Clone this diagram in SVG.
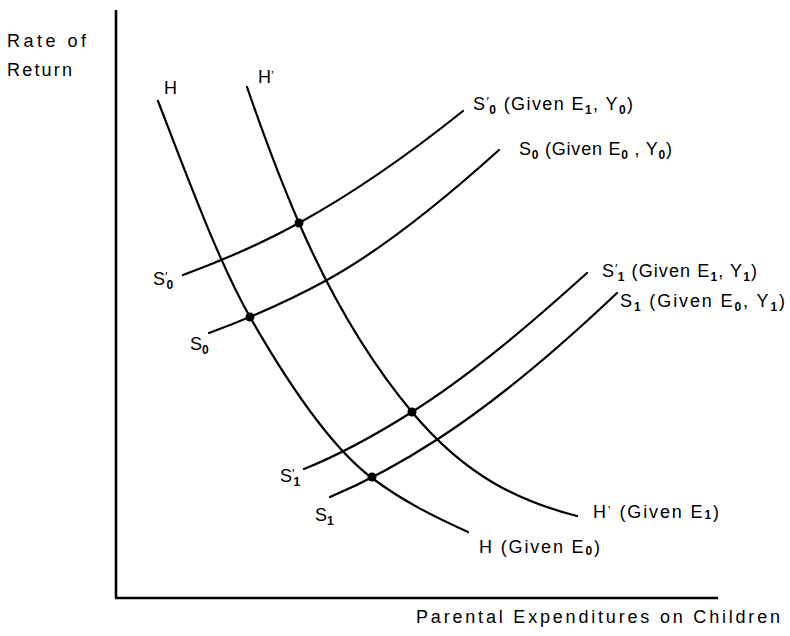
<svg xmlns="http://www.w3.org/2000/svg" width="790" height="636" viewBox="0 0 790 636">
<style>
.ax{fill:none;stroke:#000;stroke-width:2.6}
.cv{fill:none;stroke:#000;stroke-width:2.2;stroke-linecap:round}
.dot{fill:#000}
text{font-family:"Liberation Sans",Arial,Helvetica,sans-serif;font-size:18px;fill:#000}
.sub{font-size:12px;font-weight:bold}
.pr{font-size:13px}
</style>
<rect width="790" height="636" fill="#fff"/>
<g id="axes">
<line class="ax" x1="116" y1="10" x2="116" y2="598"/>
<line class="ax" x1="115" y1="598" x2="718" y2="598"/>
<text x="7" y="47" textLength="79" lengthAdjust="spacing">Rate  of</text>
<text x="7" y="76" textLength="65" lengthAdjust="spacing">Return</text>
<text x="416" y="623" textLength="364" lengthAdjust="spacing">Parental Expenditures on Children</text>
</g>
<g id="curves">
<g id="H">
<path class="cv" d="M158,101 C188.7,180.7 219.3,263.3 250,317 C290.7,388.2 331.3,447.5 372,478 C404,502 436,517.6 468,532"/>
<text x="164" y="94">H</text>
<text x="479" y="553" textLength="121" lengthAdjust="spacing">H (Given E<tspan class="sub" dy="2">0</tspan><tspan dy="-2">)</tspan></text>
</g>
<g id="Hprime">
<path class="cv" d="M247,87 C264.3,137.2 281.7,183.2 299,223 C336.7,309.7 374.3,366.8 412,412 C467,478 522,502 577,516"/>
<text x="258" y="83">H<tspan class="pr" dy="-3">ʼ</tspan></text>
<text x="593" y="518" textLength="126" lengthAdjust="spacing">H<tspan class="pr" dy="-3">ʼ</tspan><tspan dy="3"> (Given E</tspan><tspan class="sub" dy="1">1</tspan><tspan dy="-1">)</tspan></text>
</g>
<g id="S0prime">
<path class="cv" d="M183,275 C221.7,260.7 260.3,244.3 299,223 C353.7,192.9 408.3,154.8 463,111"/>
<text x="153" y="285">S<tspan class="pr" dy="-4">′</tspan><tspan class="sub" dx="-1" dy="8">0</tspan></text>
<text x="473" y="110" textLength="160" lengthAdjust="spacing">S<tspan class="pr" dy="-4">′</tspan><tspan class="sub" dx="-1" dy="8">0</tspan><tspan dy="-4"> (Given E</tspan><tspan class="sub" dy="4">1</tspan><tspan dy="-4">, Y</tspan><tspan class="sub" dy="4">0</tspan><tspan dy="-4">)</tspan></text>
</g>
<g id="S0">
<path class="cv" d="M209,333 C248.3,318.5 287.7,301.6 327,280 C384.3,248.5 441.7,201.6 499,150"/>
<text x="190" y="350">S<tspan class="sub" dy="4">0</tspan></text>
<text x="519" y="155" textLength="153" lengthAdjust="spacing">S<tspan class="sub" dy="4">0</tspan><tspan dy="-4"> (Given E</tspan><tspan class="sub" dy="4">0</tspan><tspan dy="-4"> , Y</tspan><tspan class="sub" dy="4">0</tspan><tspan dy="-4">)</tspan></text>
</g>
<g id="S1prime">
<path class="cv" d="M304,469 C340,454.6 376,434.7 412,412 C470.3,375.3 528.7,325.5 587,273"/>
<text x="280" y="482">S<tspan class="pr" dy="-4">′</tspan><tspan class="sub" dx="-1" dy="8">1</tspan></text>
<text x="602" y="277" textLength="155" lengthAdjust="spacing">S<tspan class="pr" dy="-4">′</tspan><tspan class="sub" dx="-1" dy="8">1</tspan><tspan dy="-4"> (Given E</tspan><tspan class="sub" dy="4">1</tspan><tspan dy="-4">, Y</tspan><tspan class="sub" dy="4">1</tspan><tspan dy="-4">)</tspan></text>
</g>
<g id="S1">
<path class="cv" d="M330,497 C366,481.9 402,462.4 438,439 C497.7,400.2 557.3,349.7 617,293"/>
<text x="315" y="521">S<tspan class="sub" dy="4">1</tspan></text>
<text x="620" y="307" textLength="165" lengthAdjust="spacing">S<tspan class="sub" dy="4">1</tspan><tspan dy="-4"> (Given E</tspan><tspan class="sub" dy="4">0</tspan><tspan dy="-4">, Y</tspan><tspan class="sub" dy="4">1</tspan><tspan dy="-4">)</tspan></text>
</g>
</g>
<g id="equilibria">
<circle class="dot" cx="250" cy="317" r="4.5"/>
<circle class="dot" cx="299" cy="223" r="4.5"/>
<circle class="dot" cx="412" cy="412" r="4.5"/>
<circle class="dot" cx="372" cy="477" r="4.5"/>
</g>
</svg>
